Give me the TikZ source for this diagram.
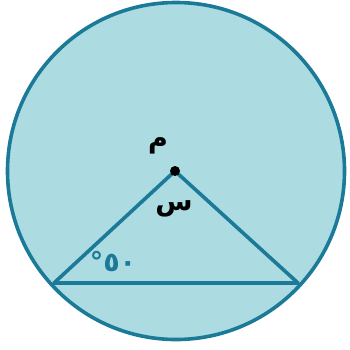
\documentclass[tikz,border=0pt]{standalone}
\usepackage{fontspec}
\TeXXeTstate=1
\newfontfamily\arabicfont[Script=Arabic]{DejaVu Sans}
\definecolor{fillblue}{RGB}{172,219,225}
\definecolor{teal}{RGB}{27,122,152}
\begin{document}
\begin{tikzpicture}[x=1pt,y=-1pt,
  edge/.style={draw=teal,line width=3.6pt,line join=round},
  lbl/.style={font=\arabicfont\bfseries\fontsize{27}{30}\selectfont,inner sep=0pt}]
\useasboundingbox (0,0) rectangle (350,349);
\filldraw[fill=fillblue,draw=teal,line width=3.6pt] (176,171) circle (168.5);
\coordinate (O) at (175,171);
\coordinate (A) at (54,283);
\coordinate (B) at (298,283);
\draw[edge] (A) -- (O) -- (B) -- cycle;
\fill[black] (O) circle (5);
\node[lbl] (m) at (158,146) {\beginR م\endR};
\node[lbl] (s) at (174,209) {\beginR س\endR};
\node[lbl,text=teal] (ang) at (113,262) {٥٠°};
\end{tikzpicture}
\end{document}
